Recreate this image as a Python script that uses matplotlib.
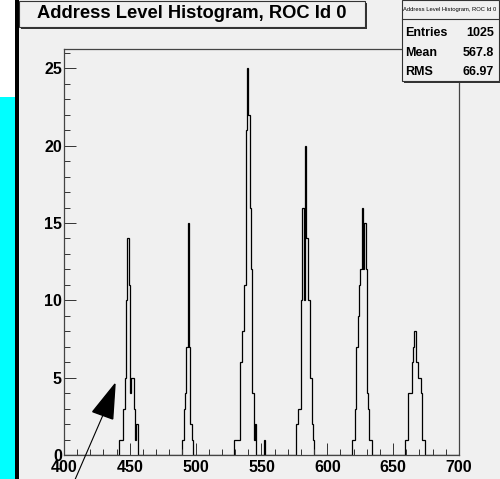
import numpy as np
import matplotlib
matplotlib.use("Agg")
import matplotlib.pyplot as plt
from matplotlib.patches import Rectangle, Polygon
from matplotlib.lines import Line2D
from matplotlib.ticker import MultipleLocator

plt.rcParams["font.family"] = ["Liberation Sans", "DejaVu Sans"]
plt.rcParams["font.weight"] = "bold"

# histogram contents, 1 bin per address unit (400..700)
peak1_start = 442
peak1 = [1, 1, 1, 3, 5, 10, 14, 11, 4, 5, 5, 3, 1, 2]
peak2_start = 490
peak2 = [1, 3, 4, 7, 15, 7, 2, 1]
peak3_start = 529
peak3 = [1, 1, 1, 1, 1, 6, 8, 8, 11, 21, 25, 22, 16, 12, 4, 1, 2]
peak4_start = 576
peak4 = [2, 2, 3, 3, 10, 16, 10, 20, 14, 10, 10, 5, 2, 1]
peak5_start = 619
peak5 = [1, 1, 3, 7, 9, 11, 12, 16, 12, 15, 12, 4, 3, 1, 1]
peak6_start = 659
peak6 = [1, 1, 4, 4, 4, 6, 7, 8, 6, 6, 5, 5, 4, 1, 1]
single_bins = [552]
single_counts = [1]

title = "Address Level Histogram, ROC Id 0"
stat_names = ["Entries", "Mean", "RMS"]
stat_values = ["1025", "567.8", "66.97"]

W, H = 500, 479
BG = "#f0f0f0"


def fx(px):
    return px / W


def fy(py):
    return 1 - py / H


edges = np.arange(400, 701)
counts = np.zeros(len(edges) - 1)
for start, vals in [(peak1_start, peak1), (peak2_start, peak2), (peak3_start, peak3),
                    (peak4_start, peak4), (peak5_start, peak5), (peak6_start, peak6)]:
    counts[start - 400:start - 400 + len(vals)] = vals
for b, c in zip(single_bins, single_counts):
    counts[b - 400] = c

fig = plt.figure(figsize=(W / 100, H / 100), dpi=100, facecolor=BG)

# left side decoration (cut-off neighbour window)
fig.add_artist(Rectangle((0, 0), fx(15), 1 - 97 / H, transform=fig.transFigure,
                         facecolor="#00ffff", edgecolor="none"))
fig.add_artist(Rectangle((0, fy(97)), fx(15), 97 / H, transform=fig.transFigure,
                         facecolor="white", edgecolor="none"))
fig.add_artist(Rectangle((fx(15), 0), fx(3.5), 1, transform=fig.transFigure,
                         facecolor="black", edgecolor="none"))

ax = fig.add_axes([fx(64), 1 - 455 / H, 395 / W, 406 / H])
ax.set_facecolor(BG)
ax.stairs(counts, edges, color="black", lw=0.9, baseline=0)
ax.set_xlim(400, 700)
ax.set_ylim(0, 26.25)
ax.set_xticks(np.arange(400, 701, 50))
ax.set_yticks(np.arange(0, 26, 5))
ax.xaxis.set_minor_locator(MultipleLocator(10))
ax.yaxis.set_minor_locator(MultipleLocator(1))
ax.tick_params(which="both", direction="in", top=False, right=False,
               color="#333333", width=0.7, labelsize=11.5)
ax.tick_params(which="major", length=8.6)
ax.tick_params(which="minor", length=4.3)
ax.tick_params(axis="x", pad=3.5)
ax.tick_params(axis="y", pad=1.5)
for s in ax.spines.values():
    s.set_color("#444444")
    s.set_linewidth(0.9)

# title box with shadow
fig.add_artist(Rectangle((fx(21), fy(28.5)), fx(346), 25 / H, transform=fig.transFigure,
                         facecolor="#333333", edgecolor="none"))
fig.add_artist(Rectangle((fx(19), fy(26.5)), fx(346), 25 / H, transform=fig.transFigure,
                         facecolor=BG, edgecolor="#333333", lw=0.8))
fig.text(fx(192), fy(14), title, fontsize=13.2, ha="center", va="center")

# stats box with shadow
fig.add_artist(Rectangle((fx(403.5), fy(82.5)), fx(98), 81 / H, transform=fig.transFigure,
                         facecolor="#333333", edgecolor="none"))
fig.add_artist(Rectangle((fx(401.5), fy(80.5)), fx(97), 81 / H, transform=fig.transFigure,
                         facecolor=BG, edgecolor="#333333", lw=0.8))
fig.add_artist(Line2D([fx(401.5), fx(498.5)], [fy(19), fy(19)], transform=fig.transFigure,
                      color="#333333", lw=0.8))
fig.text(fx(450), fy(10), title, fontsize=4.2, ha="center", va="center", fontweight="normal")
for i, (name, val) in enumerate(zip(stat_names, stat_values)):
    yy = fy(33 + 19.5 * i)
    fig.text(fx(405), yy, name, fontsize=9, ha="left", va="center")
    fig.text(fx(494), yy, val, fontsize=9, ha="right", va="center")

# pointer arrow
fig.add_artist(Line2D([fx(74), fx(103)], [fy(482), fy(415)], transform=fig.transFigure,
                      color="black", lw=0.8))
fig.add_artist(Polygon([(fx(115), fy(384)), (fx(92.7), fy(411.7)), (fx(112.7), fy(419))],
                       closed=True, transform=fig.transFigure,
                       facecolor="black", edgecolor="black"))

fig.savefig("out.png", dpi=100, facecolor=BG)
